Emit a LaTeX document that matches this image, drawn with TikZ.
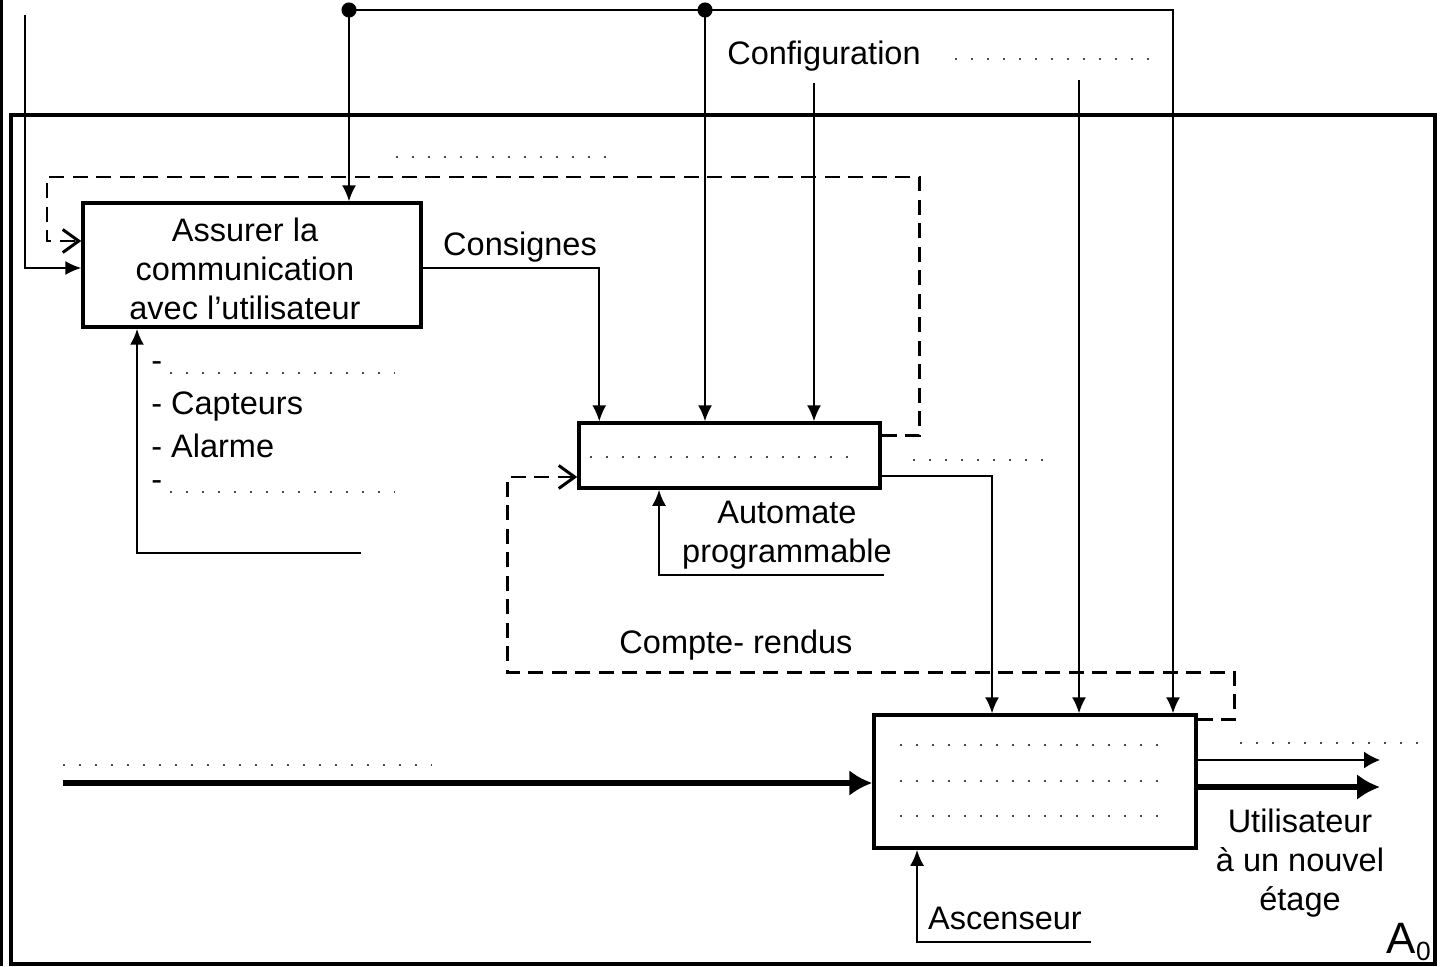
\documentclass[tikz,border=0pt]{standalone}
\usepackage{fontspec}
\setmainfont{Liberation Sans}
\usetikzlibrary{arrows.meta,positioning,calc}
\tikzset{
  box/.style={draw, line width=2pt, inner sep=0pt},
  txt/.style={inner sep=0pt, align=center, font=\fontsize{18.5}{22}\selectfont},
  sig/.style={line width=0.9pt, -{Latex[length=0.32cm,width=0.28cm]}},
  mech/.style={line width=1.3pt, -{Latex[length=0.32cm,width=0.28cm]}},
  heavy/.style={line width=3.6pt, -{Latex[length=0.46cm,width=0.52cm]}},
  fb/.style={line width=1.7pt, dash pattern=on 0.3cm off 0.17cm, -{Straight Barb[length=0.32cm,width=0.46cm,line width=1.7pt]}},
  dots/.style={line width=1.4pt, gray!60!black, dash pattern=on 0.04cm off 0.28cm}
}
\begin{document}
\begin{tikzpicture}[x=0.02cm,y=-0.02cm]
	\useasboundingbox (0,0) rectangle (1442,966);
	% frame
	\draw [line width=2pt] (11,115) rectangle (1435,964);
	\draw [line width=2pt] (1,0) -- (1,966);
	% activities
	\node [box, minimum width=6.76cm, minimum height=2.48cm] (com) at (252,265) {};
	\node [box, minimum width=6.02cm, minimum height=1.3cm] (ctl) at (729.5,455.5) {};
	\node [box, minimum width=6.44cm, minimum height=2.66cm] (asc) at (1035,781.5) {};
	\node [txt] (comtxt) at (245,269) {Assurer la\\communication\\avec l’utilisateur};
	% free ends
	\coordinate (j1) at (349,10);
	\coordinate (j2) at (705,10);
	\coordinate (j3) at (1173,10);
	\coordinate (usr) at (25,15);
	\coordinate (cfg1) at (814,83);
	\coordinate (cfg2) at (1079,80);
	\coordinate (mc1) at (361,553);
	\coordinate (mc2) at (884,575);
	\coordinate (mc3) at (1091,942);
	\coordinate (ent) at (63,783);
	\coordinate (so1) at (1380,760);
	\coordinate (so2) at (1380,787);
	% controls
	\draw [sig] (j1) -- (j3) -- (asc.north -| j3);
	\draw [sig] (j1) -- (j1 |- com.north);
	\draw [sig] (j2) -- (j2 |- ctl.north);
	\fill (j1) circle (4.3pt);
	\fill (j2) circle (4.3pt);
	\draw [sig] (cfg1) -- (cfg1 |- ctl.north);
	\draw [sig] (cfg2) -- (cfg2 |- asc.north);
	% inputs / outputs
	\draw [sig] (usr) |- ([yshift=-0.06cm]com.west);
	\draw [sig] ([yshift=-0.06cm]com.east) -| ([xshift=0.44cm]ctl.north west);
	\draw [sig] ([yshift=-0.41cm]ctl.east) -| ([xshift=-0.86cm]asc.north);
	\draw [heavy] (ent) -- (asc.west |- ent);
	\draw [sig, -{Latex[length=0.32cm,width=0.34cm]}] (asc.east |- so1) -- (so1);
	\draw [heavy] (asc.east |- so2) -- (so2);
	% mechanisms
	\draw [mech] (mc1) -| ([xshift=-2.3cm]com.south);
	\draw [mech] (mc2) -| ([xshift=-1.41cm]ctl.south);
	\draw [mech] (mc3) -| ([xshift=-2.36cm]asc.south);
	% feedback
	\draw [fb] ([yshift=0.41cm]ctl.east) -- ++(38,0) |- (47,177) |- ([yshift=0.48cm]com.west);
	\draw [fb] ([yshift=1.25cm]asc.east) -- ++(37,0) |- (507,672) |- ([yshift=-0.43cm]ctl.west);
	% dotted placeholders
	\draw [dots] (955,59) -- (1155,59);
	\draw [dots] (396,157) -- (615,157);
	\draw [dots] (170,373) -- (395,373);
	\draw [dots] (170,492) -- (395,492);
	\draw [dots] (590,457) -- (860,457);
	\draw [dots] (913,460) -- (1050,460);
	\draw [dots] (63,765) -- (432,765);
	\draw [dots] (1240,743) -- (1425,743);
	\foreach \y in {745,781,816}
		\draw [dots] (900,\y) -- (1170,\y);
	% labels
	\node [txt] (config) at (824,56) {Configuration};
	\node [txt] (consignes) at (520,247) {Consignes};
	\node [txt, anchor=west] (l1) at (151,367) {-};
	\node [txt, anchor=west] (l2) at (151,407) {- Capteurs};
	\node [txt, anchor=west] (l3) at (151,446) {- Alarme};
	\node [txt, anchor=west] (l4) at (151,486) {-};
	\node [txt] (automate) at (787,535) {Automate\\programmable};
	\node [txt] (compte) at (736,645) {Compte- rendus};
	\node [txt] (util) at (1300,863) {Utilisateur\\à un nouvel\\étage};
	\node [txt] (ascenseur) at (1005,918) {Ascenseur};
	\node [inner sep=0pt, anchor=south east] (a0) at (1431,961) {\fontsize{25}{30}\selectfont A\raisebox{-0.3ex}{\fontsize{15}{18}\selectfont 0}};
\end{tikzpicture}
\end{document}
